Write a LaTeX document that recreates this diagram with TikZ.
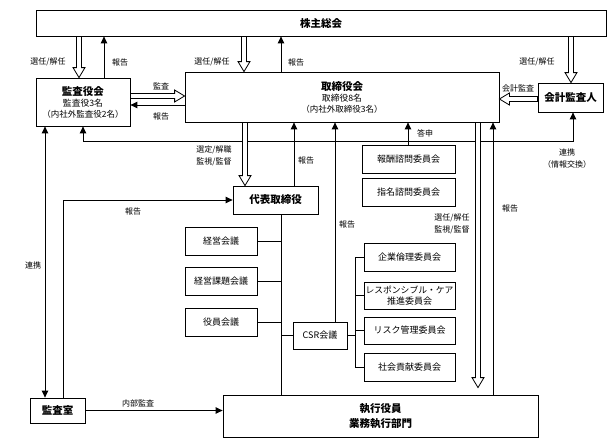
\documentclass[tikz,border=0pt]{standalone}
\usepackage{fontspec}
\setmainfont{Noto Sans CJK JP}
\usetikzlibrary{arrows.meta,calc}
\newcommand\fatdown[2]{\filldraw[fatst] let \p1=(#1), \p2=(#2) in
  (\x1-2.5pt,\y1) -- (\x1-2.5pt,\y2+10pt) -- (\x1-6pt,\y2+10pt) -- (\x1,\y2) -- (\x1+6pt,\y2+10pt) -- (\x1+2.5pt,\y2+10pt) -- (\x1+2.5pt,\y1) -- cycle;}
\newcommand\fatright[2]{\filldraw[fatst] let \p1=(#1), \p2=(#2) in
  (\x1,\y1+2.5pt) -- (\x2-10pt,\y1+2.5pt) -- (\x2-10pt,\y1+6pt) -- (\x2,\y1) -- (\x2-10pt,\y1-6pt) -- (\x2-10pt,\y1-2.5pt) -- (\x1,\y1-2.5pt) -- cycle;}
\newcommand\fatleft[2]{\filldraw[fatst] let \p1=(#1), \p2=(#2) in
  (\x1,\y1+2.5pt) -- (\x2+10pt,\y1+2.5pt) -- (\x2+10pt,\y1+6pt) -- (\x2,\y1) -- (\x2+10pt,\y1-6pt) -- (\x2+10pt,\y1-2.5pt) -- (\x1,\y1-2.5pt) -- cycle;}
\begin{document}
\begin{tikzpicture}[x=1pt,y=-1pt,
  box/.style={draw, line width=0.8pt, inner sep=0pt, align=center, fill=white},
  ttl/.style={font=\fontsize{10.5}{13}\selectfont\bfseries},
  med/.style={font=\fontsize{9}{11}\selectfont},
  lbl/.style={font=\fontsize{8}{12}\selectfont, align=center, inner sep=0pt},
  sol/.style={line width=1pt, -{Triangle[length=7pt,width=6.5pt]}},
  both/.style={line width=1pt, {Triangle[length=7pt,width=6.5pt]}-{Triangle[length=7pt,width=6.5pt]}},
  ln/.style={line width=0.8pt},
  fatst/.style={fill=white, line width=0.8pt, line join=miter}]
\useasboundingbox (0,0) rectangle (611,439);
% boxes
\node[box, ttl, minimum width=570pt, minimum height=26pt] (kabu) at (321,23) {株主総会};
\node[box, minimum width=94pt, minimum height=48pt] (ksy) at (83,102)
  {{\fontsize{10.5}{12}\selectfont\bfseries 監査役会}\\[-1pt]{\fontsize{8.8}{11}\selectfont 監査役3名}\\[-1pt]{\fontsize{8.5}{11}\selectfont （内社外監査役2名）}};
\node[box, minimum width=314pt, minimum height=50pt] (tori) at (342,97)
  {{\fontsize{10.5}{12}\selectfont\bfseries 取締役会}\\[-1pt]{\fontsize{8.8}{11}\selectfont 取締役8名}\\[-1pt]{\fontsize{8.5}{11}\selectfont （内社外取締役3名）}};
\node[box, ttl, minimum width=65pt, minimum height=29pt] (kaikei) at (570.5,97.5) {会計監査人};
\node[box, ttl, minimum width=85pt, minimum height=28pt] (daihyo) at (275.5,200) {代表取締役};
\node[box, med, minimum width=72pt, minimum height=28pt] (keiei) at (221,241) {経営会議};
\node[box, med, minimum width=72pt, minimum height=28pt] (kadai) at (221,281) {経営課題会議};
\node[box, med, minimum width=72pt, minimum height=28pt] (yakuin) at (221,322) {役員会議};
\node[box, med, minimum width=54pt, minimum height=27pt] (csr) at (320,335.5) {CSR会議};
\node[box, med, minimum width=93pt, minimum height=28pt] (hoshu) at (408.5,159) {報酬諮問委員会};
\node[box, med, minimum width=93pt, minimum height=28pt] (shimei) at (408.5,192) {指名諮問委員会};
\node[box, med, minimum width=91pt, minimum height=28pt] (kigyo) at (409.5,257) {企業倫理委員会};
\node[box, med, minimum width=91pt, minimum height=27pt] (rc) at (409.5,295.5) {\fontsize{8.8}{10.5}\selectfont レスポンシブル・ケア\\推進委員会};
\node[box, med, minimum width=91pt, minimum height=27pt] (risk) at (409.5,330.5) {リスク管理委員会};
\node[box, med, minimum width=91pt, minimum height=28pt] (shakai) at (409.5,367) {社会貢献委員会};
\node[box, minimum width=315pt, minimum height=42pt] (shikko) at (380.5,416) {{\fontsize{10.5}{14}\selectfont\bfseries 執行役員}\\[3pt]{\fontsize{10.5}{14}\selectfont\bfseries 業務執行部門}};
\node[box, ttl, minimum width=55pt, minimum height=25pt] (shitsu) at (57.5,410.5) {監査室};
% column / row coordinates
\foreach \c in {45,63,79,83,104,244,245,281,294,335,355,408,478,493,571,573}{\coordinate (x\c) at (\c,0);}
\foreach \r in {96,99,105,141,200}{\coordinate (y\r) at (0,\r);}
% top arrows
\fatdown{x79 |- kabu.south}{x79 |- ksy.north}
\draw[sol] (x104 |- ksy.north) -- (x104 |- kabu.south);
\fatdown{x244 |- kabu.south}{x244 |- tori.north}
\draw[sol] (x281 |- tori.north) -- (x281 |- kabu.south);
\fatdown{x571 |- kabu.south}{x571 |- kaikei.north}
\fatright{y96 -| ksy.east}{y96 -| tori.west}
\draw[sol] (y105 -| tori.west) -- (y105 -| ksy.east);
\fatleft{y99 -| kaikei.west}{y99 -| tori.east}
% 連携 lines
\draw[both] (x83 |- ksy.south) -- (x83 |- y141) -- (x573 |- y141) -- (x573 |- kaikei.south);
\draw[both] (x45 |- ksy.south) -- (x45 |- shitsu.north);
\draw[sol] (x63 |- shitsu.north) -- (x63 |- y200) -- (daihyo.west);
% 取締役会 - 代表取締役
\fatdown{x245 |- tori.south}{x245 |- daihyo.north}
\draw[sol] (x294 |- daihyo.north) -- (x294 |- tori.south);
% executive tree
\draw[ln] (x281 |- daihyo.south) -- (x281 |- shikko.north);
\draw[ln] (keiei.east) -- (x281 |- keiei.east);
\draw[ln] (kadai.east) -- (x281 |- kadai.east);
\draw[ln] (yakuin.east) -- (x281 |- yakuin.east);
\draw[ln] (csr.west) -- (x281 |- csr.west);
\draw[sol] (x335 |- csr.north) -- (x335 |- tori.south);
\draw[sol] (x408 |- hoshu.north) -- (x408 |- tori.south);
% CSR bracket
\draw[ln] (kigyo.west) -- (x355 |- kigyo.west) -- (x355 |- shakai.west) -- (shakai.west);
\draw[ln] (rc.west) -- (x355 |- rc.west);
\draw[ln] (risk.west) -- (x355 |- risk.west);
\draw[ln] (csr.east) -- (x355 |- csr.east);
% 取締役会 - 執行役員
\fatdown{x478 |- tori.south}{$(x478 |- shikko.north)+(0,-7)$}
\draw[sol] (x493 |- shikko.north) -- (x493 |- tori.south);
\draw[sol] (shitsu.east) -- (shitsu.east -| shikko.west);
% labels
\node[lbl] (l1) at (48,62) {選任/解任};
\node[lbl] (l2) at (120,62) {報告};
\node[lbl] (l3) at (212,62) {選任/解任};
\node[lbl] (l4) at (296,62) {報告};
\node[lbl] (l5) at (537,62) {選任/解任};
\node[lbl] (l6) at (161,86) {監査};
\node[lbl] (l7) at (161,116) {報告};
\node[lbl] (l8) at (518,88) {会計監査};
\node[lbl] (l9) at (567,159) {連携\\（情報交換）};
\node[lbl] (l10) at (214,156) {選定/解職\\監視/監督};
\node[lbl] (l11) at (306,160) {報告};
\node[lbl] (l12) at (133,211) {報告};
\node[lbl] (l13) at (33,265) {連携};
\node[lbl] (l14) at (425,133) {答申};
\node[lbl] (l15) at (347,224) {報告};
\node[lbl] (l16) at (452,224) {選任/解任\\監視/監督};
\node[lbl] (l17) at (510,208) {報告};
\node[lbl] (l18) at (138,403) {内部監査};
\end{tikzpicture}
\end{document}
